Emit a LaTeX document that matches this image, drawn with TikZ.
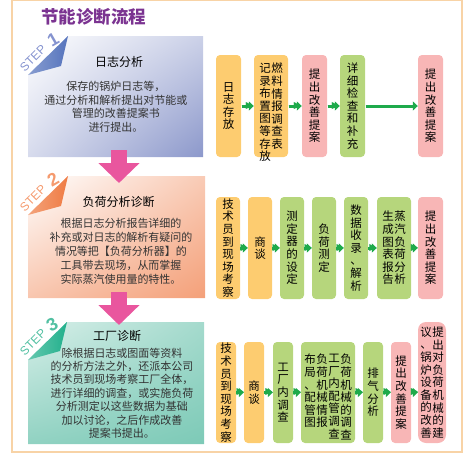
\documentclass[tikz,border=0pt]{standalone}
\usepackage{fontspec}
\setmainfont{Noto Sans CJK SC}
\newfontfamily\latinsans{Liberation Sans}
\newfontfamily\dejavu{DejaVu Sans}
\usetikzlibrary{arrows.meta,shadings}
\definecolor{framec}{HTML}{F8D3A6}
\definecolor{titlec}{HTML}{7B3391}
\definecolor{boxo}{HTML}{FDCC70}
\definecolor{boxp}{HTML}{F8B6B6}
\definecolor{boxg}{HTML}{B6D67C}
\definecolor{arrowgreen}{RGB}{30,170,75}
\definecolor{arrp}{HTML}{E9569E}
\definecolor{bodyc}{HTML}{333333}
\definecolor{bluec}{HTML}{8C98CB}
\definecolor{bluefold}{HTML}{5674BD}
\definecolor{bluestep}{HTML}{8593CF}
\definecolor{oranc}{HTML}{F4A079}
\definecolor{oranfold}{HTML}{EF7B43}
\definecolor{oranstep}{HTML}{F59A6E}
\definecolor{tealc}{HTML}{7DCAB7}
\definecolor{tealfold}{HTML}{22B08C}
\definecolor{tealstep}{HTML}{52C0A2}
\def\vstackaux#1{\ifx\relax#1\else\hbox to 1em{\hss#1\hss}\expandafter\vstackaux\fi}
\newcommand\vt[1]{\vbox{\baselineskip=12.6pt\lineskiplimit=-100pt\relax\vstackaux#1\relax}}
\newcommand\garrowtext[1]{\textcolor{arrowgreen}{$\vcenter{\hbox{\rule{#1}{3pt}}}\kern-0.8pt\vcenter{\hbox{\dejavu\fontsize{9.5}{9.5}\selectfont ▶}}$}}
\tikzset{
  ob/.style={fill=boxo,rounded corners=4pt,inner sep=0pt,font=\fontsize{11.5}{12.6}\selectfont},
  pb/.style={fill=boxp,rounded corners=4pt,inner sep=0pt,font=\fontsize{11.5}{12.6}\selectfont},
  gb/.style={fill=boxg,rounded corners=4pt,inner sep=0pt,font=\fontsize{11.5}{12.6}\selectfont},
  coltext/.style={inner sep=0pt,anchor=north,font=\fontsize{11.5}{12.6}\selectfont},
  colmid/.style={inner sep=0pt,font=\fontsize{11.5}{12.6}\selectfont},
  garrow/.style={draw=arrowgreen,line width=3pt,shorten <=0.5pt,-{Triangle[length=5pt,width=9pt]}},
  gtip/.style={inner sep=0pt,outer sep=0pt},
  parrow/.style={draw=arrp,line width=16pt,-{Triangle[length=20pt,width=40pt]}},
  ptitle/.style={inner sep=0pt,font=\fontsize{12}{14}\selectfont,text=black},
  pbody/.style={inner sep=0pt,align=center,text=bodyc},
  steptxt/.style={inner sep=0pt,rotate=45,font=\latinsans\fontsize{12}{12}\selectfont},
  stepnum/.style={inner sep=0pt,rotate=30,font=\latinsans\bfseries\fontsize{18}{18}\selectfont},
}
\begin{document}
\begin{tikzpicture}[x=1pt,y=-1pt]
\useasboundingbox (0,0) rectangle (472,458);
% frame
\draw[framec,line width=1.2pt] (12,0.6) rectangle (462,452);
% title
\node[inner sep=0pt,text=titlec,font=\bfseries\fontsize{17.5}{18}\selectfont] (title) at (94,17) {节能诊断流程};

% ---------- panel 1
\shade[upper left=white,upper right=bluec!45,lower left=bluec!35,lower right=bluec]
  (68,36) -- (203,36) -- (203,157) -- (28,157) -- (28,75) -- cycle;
\shade[left color=bluefold!70,right color=bluefold] (68,36) -- (61,66) -- (28,75) -- cycle;
\node[steptxt,text=bluestep] (s1) at (33,58) {STEP};
\node[stepnum,text=bluestep] (n1) at (53,40) {1};
\node[ptitle] (p1t) at (119,62) {日志分析};
\node[pbody,font=\fontsize{11}{13.5}\selectfont] (p1b) at (116,107) {保存的锅炉日志等，\\通过分析和解析提出对节能或\\管理的改善提案书\\进行提出。};

% ---------- panel 2
\shade[upper left=white,upper right=oranc!55,lower left=oranc!60,lower right=oranc]
  (68,176) -- (205,176) -- (205,298) -- (28,298) -- (28,215) -- cycle;
\shade[left color=oranfold!70,right color=oranfold] (68,176) -- (61,206) -- (28,215) -- cycle;
\node[steptxt,text=oranstep] (s2) at (33,198) {STEP};
\node[stepnum,text=oranstep] (n2) at (53,180) {2};
\node[ptitle] (p2t) at (118.5,202) {负荷分析诊断};
\node[pbody,font=\fontsize{11}{14}\selectfont] (p2b) at (121,251) {根据日志分析报告详细的\\补充或对日志的解析有疑问的\\情况等把【负荷分析器】的\\工具带去现场，从而掌握\\实际蒸汽使用量的特性。};

% ---------- panel 3
\shade[upper left=tealc!30,upper right=tealc!70,lower left=tealc!85,lower right=tealc]
  (67,322) -- (204,322) -- (204,444) -- (28,444) -- (28,360) -- cycle;
\shade[left color=tealfold!70,right color=tealfold] (67,322) -- (60,351) -- (28,360) -- cycle;
\node[steptxt,text=tealstep] (s3) at (33,342) {STEP};
\node[stepnum,text=tealstep] (n3) at (52,325) {3};
\node[ptitle] (p3t) at (117,336) {工厂诊断};
\node[pbody,font=\fontsize{11}{13.4}\selectfont] (p3b) at (122,393) {除根据日志或图面等资料\\的分析方法之外，还派本公司\\技术员到现场考察工厂全体，\\进行详细的调查，或实施负荷\\分析测定以这些数据为基础\\加以讨论，之后作成改善\\提案书提出。};

% pink arrows
\coordinate (a1s) at (119,150); \coordinate (a1e) at (119,183);
\coordinate (a2s) at (119,292); \coordinate (a2e) at (119,325);
\draw[parrow] (a1s) -- (a1e);
\draw[parrow] (a2s) -- (a2e);

% ---------- row 1
\node[ob,minimum width=25pt,minimum height=102pt] (r1a) at (228.5,106) {\vt{日志存放}};
\node[ob,minimum width=34pt,minimum height=102pt] (r1b) at (271,106) {};
\node[coltext] (r1b1) at (277,63) {\vt{燃料情报调查表}};
\node[coltext] (r1b2) at (265,63) {\vt{记录布置图等存放}};
\node[pb,minimum width=25pt,minimum height=102pt] (r1c) at (314.5,106) {\vt{提出改善提案}};
\node[gb,minimum width=25pt,minimum height=102pt] (r1d) at (352.5,106) {\vt{详细检查和补充}};
\node[pb,minimum width=25pt,minimum height=102pt] (r1e) at (430.5,106) {\vt{提出改善提案}};
\draw[garrow] (r1a.east) -- (r1b.west);
\draw[garrow] (r1b.east) -- (r1c.west);
\draw[garrow] (r1c.east) -- (r1d.west);
\draw[garrow] (r1d.east) -- (r1e.west);
\node[gtip] (t11) at (247.5,106) {\garrowtext{5pt}};
\node[gtip] (t12) at (295,106) {\garrowtext{6pt}};
\node[gtip] (t13) at (333.5,106) {\garrowtext{5pt}};

% ---------- row 2
\node[ob,minimum width=24pt,minimum height=102pt] (r2a) at (228,248) {\vt{技术员到现场考察}};
\node[ob,minimum width=24pt,minimum height=102pt] (r2b) at (260,248) {\vt{商谈}};
\node[gb,minimum width=24pt,minimum height=102pt] (r2c) at (292,248) {\vt{测定器的设定}};
\node[gb,minimum width=24pt,minimum height=102pt] (r2d) at (324,248) {\vt{负荷测定}};
\node[gb,minimum width=24pt,minimum height=102pt] (r2e) at (356,248) {\vt{数据收录、解析}};
\node[gb,minimum width=34pt,minimum height=102pt] (r2f) at (394,248) {};
\node[colmid] (r2f1) at (400,248) {\vt{蒸汽负荷分析}};
\node[colmid] (r2f2) at (388,248) {\vt{生成图表报告}};
\node[pb,minimum width=25pt,minimum height=102pt] (r2g) at (430.5,248) {\vt{提出改善提案}};
\draw[garrow] (r2a.east) -- (r2b.west);
\draw[garrow] (r2b.east) -- (r2c.west);
\draw[garrow] (r2c.east) -- (r2d.west);
\draw[garrow] (r2d.east) -- (r2e.west);
\draw[garrow] (r2e.east) -- (r2f.west);
\draw[garrow] (r2f.east) -- (r2g.west);
\node[gtip] (t21) at (244,248) {\garrowtext{1.5pt}};
\node[gtip] (t22) at (276,248) {\garrowtext{1.5pt}};
\node[gtip] (t23) at (308,248) {\garrowtext{1.5pt}};
\node[gtip] (t24) at (340,248) {\garrowtext{1.5pt}};
\node[gtip] (t25) at (372.5,248) {\garrowtext{2pt}};
\node[gtip] (t26) at (414.5,248) {\garrowtext{1pt}};

% ---------- row 3
\node[ob,minimum width=20pt,minimum height=101pt] (r3a) at (226,392.5) {\vt{技术员到现场考察}};
\node[ob,minimum width=20pt,minimum height=101pt] (r3b) at (254,392.5) {\vt{商谈}};
\node[gb,minimum width=20pt,minimum height=101pt] (r3c) at (283,392.5) {\vt{工厂内调查}};
\node[gb,minimum width=54pt,minimum height=101pt] (r3d) at (328,392.5) {};
\node[coltext] (r3d1) at (346,354) {\vt{负荷机械的调查}};
\node[coltext] (r3d2) at (334,354) {\vt{工厂内配管调查}};
\node[coltext] (r3d3) at (322,354) {\vt{负荷机械情报}};
\node[coltext] (r3d4) at (310,354) {\vt{布局、配管图}};
\node[gb,minimum width=20pt,minimum height=101pt] (r3e) at (373,392.5) {\vt{排气分析}};
\node[pb,minimum width=20pt,minimum height=101pt] (r3f) at (401,392.5) {\vt{提出改善提案}};
\node[pb,rounded corners=8pt,minimum width=28pt,minimum height=121pt] (r3g) at (432,382.5) {};
\node[colmid] (r3g1) at (438,382.5) {\vt{提出对负荷机械的建}};
\node[colmid] (r3g2) at (426,382.5) {\vt{议、锅炉设备的改善}};
\draw[garrow] (r3a.east) -- (r3b.west);
\draw[garrow] (r3b.east) -- (r3c.west);
\draw[garrow] (r3c.east) -- (r3d.west);
\draw[garrow] (r3d.east) -- (r3e.west);
\draw[garrow] (r3e.east) -- (r3f.west);
\draw[garrow] (r3f.east) -- (r3f.east -| r3g.west);
\node[gtip] (t31) at (240,392.5) {\garrowtext{1.5pt}};
\node[gtip] (t32) at (268.5,392.5) {\garrowtext{2pt}};
\node[gtip] (t33) at (297,392.5) {\garrowtext{1.5pt}};
\node[gtip] (t34) at (359,392.5) {\garrowtext{1.5pt}};
\node[gtip] (t35) at (387,392.5) {\garrowtext{1.5pt}};
\node[gtip] (t36) at (414.5,392.5) {\garrowtext{1pt}};
\end{tikzpicture}
\end{document}
